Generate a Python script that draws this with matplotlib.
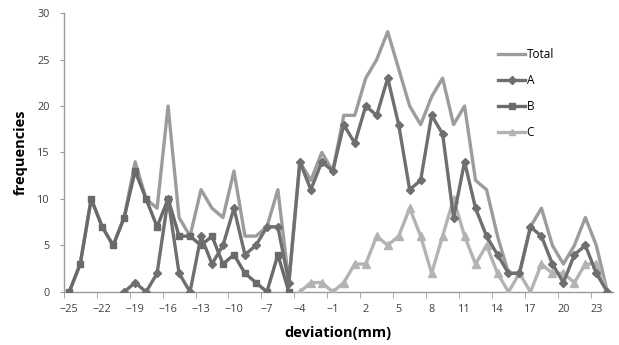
import numpy as np
import matplotlib.pyplot as plt

nan = np.nan

# deviation categories (mm)
deviation = list(range(-25, 25))

total = [0, 3, 10, 7, 5, 8, 14, 10, 9, 20, 8, 6, 11, 9, 8, 13, 6, 6, 7, 11, 1,
         14, 12, 15, 13, 19, 19, 23, 25, 28, 24, 20, 18, 21, 23, 18, 20, 12, 11, 6,
         2, 2, 7, 9, 5, 3, 5, 8, 5, 0]
grp_a = [nan, nan, nan, nan, nan, 0, 1, 0, 2, 10, 2, 0, 6, 3, 5, 9, 4, 5, 7, 7, 1,
         14, 11, 14, 13, 18, 16, 20, 19, 23, 18, 11, 12, 19, 17, 8, 14, 9, 6, 4,
         2, 2, 7, 6, 3, 1, 4, 5, 2, 0]
grp_b = [0, 3, 10, 7, 5, 8, 13, 10, 7, 10, 6, 6, 5, 6, 3, 4, 2, 1, 0, 4, 0,
         nan, nan, nan, nan, nan, nan, nan, nan, nan, nan, nan, nan, nan, nan, nan, nan, nan, nan, nan,
         nan, nan, nan, nan, nan, nan, nan, nan, nan, nan]
grp_c = [nan] * 21 + [0, 1, 1, 0, 1, 3, 3, 6, 5, 6, 9, 6, 2, 6, 10, 6, 3, 5, 2,
                      0, 2, 0, 3, 2, 2, 1, 3, 3, 0]

x_labels = list(range(-25, 24, 3))

plt.rcParams['font.family'] = ['Open Sans', 'DejaVu Sans']

fig = plt.figure(figsize=(6.19, 3.45), dpi=100)
ax = fig.add_axes([0.103, 0.154, 0.887, 0.808])

ax.plot(deviation, total, color='#9c9c9c', lw=2.4, label='Total', zorder=2)
ax.plot(deviation, grp_a, color='#6f6f6f', lw=2.4, marker='D', ms=4.5,
        label='A', zorder=4)
ax.plot(deviation, grp_b, color='#6a6a6a', lw=2.4, marker='s', ms=5,
        label='B', zorder=3)
ax.plot(deviation, grp_c, color='#b3b3b3', lw=2.4, marker='^', ms=6,
        label='C', zorder=3)

ax.set_xlim(-25.5, 24.5)
ax.set_ylim(0, 30)
ax.set_yticks(range(0, 31, 5))
ax.set_xticks(x_labels)
ax.set_xticks(np.arange(-25.5, 24.6, 3), minor=True)
ax.tick_params(axis='x', which='major', length=0, pad=9, labelsize=7.8,
               labelcolor='#404040')
ax.tick_params(axis='x', which='minor', length=4, color='#9a9a9a', direction='out')
ax.tick_params(axis='y', length=3, color='#9a9a9a', labelsize=7.8,
               labelcolor='#404040', pad=7)

for side in ('top', 'right'):
    ax.spines[side].set_visible(False)
for side in ('left', 'bottom'):
    ax.spines[side].set_color('#9a9a9a')
    ax.spines[side].set_linewidth(1.0)

ax.set_xlabel('deviation(mm)', fontsize=10.5, fontweight='bold', labelpad=8)
ax.set_ylabel('frequencies', fontsize=10.5, fontweight='bold', labelpad=7)

ax.legend(loc='upper left', bbox_to_anchor=(0.772, 0.912), frameon=False,
          fontsize=8.5, handlelength=2.3, handletextpad=0.1, labelspacing=1.1,
          markerscale=0.8)

fig.savefig('out.png', dpi=100)
